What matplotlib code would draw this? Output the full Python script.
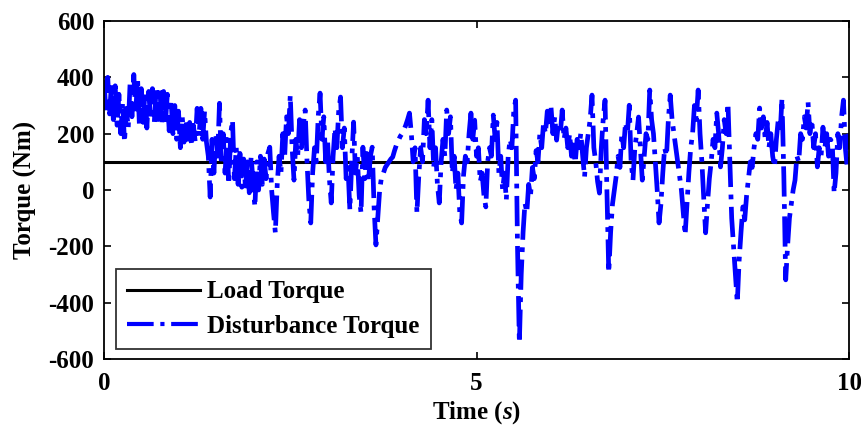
import matplotlib
matplotlib.use("Agg")
import matplotlib.pyplot as plt
import numpy as np

sample_step_s = 0.025
disturbance = [
    # 0.000 - 0.975 s
    390, 280, 400, 270, 380, 250, 370, 230, 340, 200,
    310, 170, 290, 220, 380, 260, 410, 270, 400, 230,
    360, 240, 350, 220, 350, 250, 360, 240, 365, 250,
    360, 230, 350, 240, 340, 210, 320, 200, 300, 180,
    # 1.000 - 1.975 s
    280, 150, 260, 170, 250, 180, 240, 160, 230, 170,
    290, 190, 290, 180, 280, 170, 120, -25, 180, 60,
    200, 120, 308, 90, 200, 60, 180, 20, 200, 248,
    40, 150, 20, 130, 10, 110, 0, 100, -10, 120,
    # 2.000 - 2.975 s
    30, -60, 100, 0, 120, 20, 110, 40, 130, 152,
    0, -80, -152, 20, 120, 60, 200, 120, 260, 200,
    337, 150, 35, 180, 120, 250, 150, 230, 284, 100,
    -40, -117, 60, 150, 100, 260, 344, 180, 260, 100,
    # 3.000 - 3.975 s
    180, 40, -46, 120, 220, 150, 280, 330, 150, 220,
    40, 80, -71, 100, 241, 60, 120, -20, -82, 152,
    40, 130, 30, 120, 152, -60, -195, -100, 0, 46,
    60, 80, 90, 100, 110, 117, 140, 160, 175, 190,
    # 4.000 - 4.975 s
    200, 213, 230, 250, 273, 200, 100, 150, -82, 50,
    150, 100, 250, 200, 319, 150, 250, 80, 150, 20,
    -46, 100, 180, 120, 284, 200, 260, 60, 120, 0,
    60, -80, -117, 50, 120, 100, 200, 273, 180, 248,
    # 5.000 - 5.975 s
    120, 150, 30, 60, -20, -60, 100, 150, 120, 266,
    180, 240, 60, 120, 0, 60, -35, 120, 180, 150,
    280, 319, -200, -543, -300, -150, -46, -80, 20, -20,
    80, 40, 140, 100, 200, 150, 240, 200, 280, 230,
    # 6.000 - 6.975 s
    294, 200, 260, 177, 240, 200, 284, 180, 220, 150,
    200, 120, 160, 96, 180, 150, 202, 120, 46, 150,
    200, 250, 337, 150, 100, 30, -11, 150, 250, 319,
    0, -294, -150, -50, 0, 50, 120, 80, 200, 150,
    # 7.000 - 7.975 s
    240, 200, 301, 100, 35, 150, 200, 259, 150, 35,
    120, 200, 180, 355, 250, 200, 100, 0, -117, -50,
    60, 150, 120, 250, 337, 250, 200, 152, 100, 50,
    0, -80, -160, -50, 60, 150, 200, 300, 250, 355,
    # 8.000 - 8.975 s
    200, 100, -30, -152, -50, 40, 100, 180, 150, 273,
    200, 82, 150, 250, 200, 308, 100, -100, -200, -300,
    -401, -250, -150, -60, -106, -20, 40, 100, 80, 150,
    200, 180, 291, 220, 260, 180, 240, 150, 200, 120,
    # 9.000 - 10.000 s
    82, 180, 250, 200, 326, 50, -319, -200, -100, -50,
    0, 35, 120, 100, 200, 180, 260, 220, 312, 200,
    250, 150, 200, 82, 150, 120, 223, 150, 200, 120,
    180, 167, -11, 60, 200, 150, 260, 319, 150, 82,
    200,
]
load_time = [0, 10]
load_torque = [100, 100]
x_ticks = [0, 5, 10]
y_ticks = [-600, -400, -200, 0, 200, 400, 600]

time_s = np.arange(len(disturbance)) * sample_step_s

plt.rcParams['font.family'] = ['Liberation Serif', 'DejaVu Serif']
plt.rcParams['font.weight'] = 'bold'
plt.rcParams['axes.unicode_minus'] = False
plt.rcParams['mathtext.fontset'] = 'custom'
plt.rcParams['mathtext.it'] = 'Liberation Serif:italic:bold'
plt.rcParams['mathtext.rm'] = 'Liberation Serif:bold'

fig = plt.figure(figsize=(8.61, 4.33), dpi=100)
ax = fig.add_axes([0.1208, 0.1709, 0.8653, 0.7806])

ax.plot(load_time, load_torque, color='black', lw=2.2, label='Load Torque')
ax.plot(time_s, disturbance, color='#0000ff', lw=3.4, linestyle='-.', label='Disturbance Torque')

ax.set_xlim(0, 10)
ax.set_ylim(-600, 600)
ax.set_xticks(x_ticks)
ax.set_yticks(y_ticks)
ax.tick_params(direction='in', length=5, width=1.2, top=True, right=True,
               labelsize=18)
ax.tick_params(axis='x', pad=9)
ax.tick_params(axis='y', pad=7)
for lab in ax.get_xticklabels() + ax.get_yticklabels():
    lab.set_fontweight('bold')
for sp in ax.spines.values():
    sp.set_linewidth(1.3)

ax.set_xlabel(r'Time ($\mathit{s}$)', fontsize=18, fontweight='bold', labelpad=3)
ax.set_ylabel('Torque (Nm)', fontsize=18, fontweight='bold', labelpad=8)

leg = ax.legend(loc='lower left', bbox_to_anchor=(0.016, 0.03), fontsize=18,
                frameon=True, fancybox=False, edgecolor='black', handlelength=2.9,
                borderpad=0.45, labelspacing=0.45, handletextpad=0.3, borderaxespad=0)
leg.get_frame().set_linewidth(1.3)
leg.get_lines()[1].set_linewidth(3.0)
for t in leg.get_texts():
    t.set_fontweight('bold')

fig.savefig('out.png', dpi=100)
